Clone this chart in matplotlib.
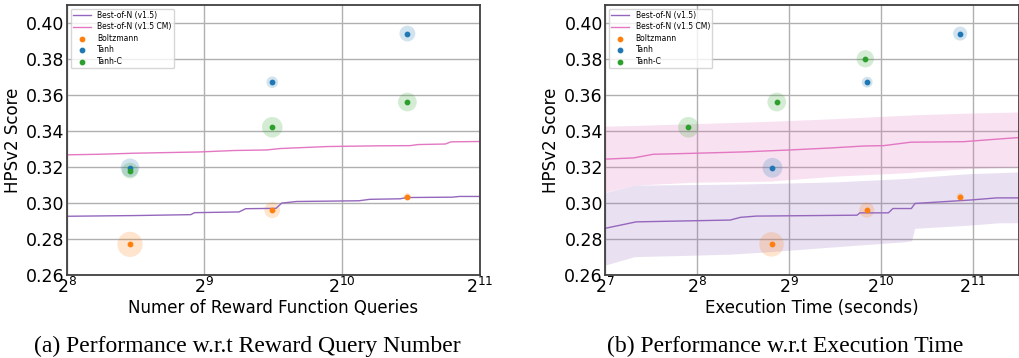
import numpy as np
import matplotlib
matplotlib.use("Agg")
import matplotlib.pyplot as plt
from matplotlib.ticker import LogLocator, LogFormatterMathtext, NullLocator, FormatStrFormatter

# ---- data: (a) reward queries ----
q_bon_x = [256, 362, 478, 487, 609, 630, 734, 755, 814, 1113, 1176, 1370, 1418, 1783, 1846, 2048]
q_bon_y = [0.2926, 0.2930, 0.2935, 0.2946, 0.2950, 0.2968, 0.2970, 0.2999, 0.3008, 0.3012,
           0.3020, 0.3023, 0.3030, 0.3032, 0.3036, 0.3036]
q_cm_x = [256, 300, 360, 500, 595, 700, 750, 950, 1230, 1440, 1500, 1720, 1770, 2048]
q_cm_y = [0.3267, 0.3270, 0.3276, 0.3283, 0.3291, 0.3294, 0.3302, 0.3313, 0.3317, 0.3318,
          0.3324, 0.3327, 0.3339, 0.3341]

q_boltz_x = [352, 720, 1421]
q_boltz_y = [0.277, 0.296, 0.3035]
q_boltz_sd = [0.0070, 0.0044, 0.0020]
q_tanh_x = [352, 720, 1421]
q_tanh_y = [0.3195, 0.367, 0.394]
q_tanh_sd = [0.0052, 0.0032, 0.0044]
q_tanhc_x = [352, 720, 1421]
q_tanhc_y = [0.318, 0.342, 0.356]
q_tanhc_sd = [0.0044, 0.0057, 0.0052]

# ---- data: (b) execution time ----
t_bon_x = [128, 162, 329, 355, 400, 855, 873, 1083, 1120, 1287, 1323, 2000, 2450, 2896]
t_bon_y = [0.2859, 0.2895, 0.2905, 0.2920, 0.2927, 0.2932, 0.2945, 0.2945, 0.2969, 0.2969,
           0.2997, 0.3016, 0.3028, 0.3028]
t_cm_x = [128, 159, 184, 256, 362, 515, 700, 900, 1045, 1280, 1910, 2320, 2896]
t_cm_y = [0.3243, 0.3250, 0.3270, 0.3276, 0.3283, 0.3294, 0.3305, 0.3316, 0.3318, 0.3337,
          0.3340, 0.3351, 0.3363]

band_x = [128, 160, 250, 330, 440, 730, 1210, 1290, 1320, 2000, 2500, 2896]
t_cm_lo = [0.3060, 0.3099, 0.3115, 0.3118, 0.3121, 0.3149, 0.3167, 0.3170, 0.3172, 0.3191, 0.3196, 0.3200]
t_cm_hi = [0.3426, 0.3430, 0.3440, 0.3446, 0.3453, 0.3468, 0.3486, 0.3488, 0.3489, 0.3499, 0.3502, 0.3505]
t_bon_hi = [0.3058, 0.3099, 0.3102, 0.3104, 0.3108, 0.3117, 0.3135, 0.3138, 0.3140, 0.3163, 0.3168, 0.3172]
t_bon_lo = [0.2655, 0.2702, 0.2710, 0.2716, 0.2729, 0.2757, 0.2784, 0.2790, 0.2859, 0.2877, 0.2890, 0.2890]

t_boltz_x = [449, 920, 1859]
t_boltz_y = [0.277, 0.296, 0.3035]
t_boltz_sd = [0.0068, 0.0042, 0.0020]
t_tanh_x = [452, 923, 1859]
t_tanh_y = [0.3195, 0.367, 0.394]
t_tanh_sd = [0.0055, 0.0030, 0.0039]
t_tanhc_x = [240, 467, 910]
t_tanhc_y = [0.342, 0.356, 0.380]
t_tanhc_sd = [0.0057, 0.0052, 0.0048]

PURPLE = "#9467bd"
PINK = "#e377c2"

fig = plt.figure(figsize=(10.2, 3.58), dpi=100)
ax1 = fig.add_axes([0.0654, 0.2318, 0.4052, 0.755])
ax2 = fig.add_axes([0.5931, 0.2318, 0.4059, 0.755])


def halo_sizes(ax, sd):
    # convert a score spread into a marker area (points^2)
    y0 = ax.transData.transform((1, 0.30))[1]
    y1 = ax.transData.transform((1, 0.31))[1]
    px_per_unit = (y1 - y0) / 0.01
    r_pt = np.array(sd) * px_per_unit * 72.0 / fig.dpi
    return (2 * r_pt) ** 2


def setup(ax, xlim, xlabel):
    ax.set_xscale("log", base=2)
    ax.set_xlim(*xlim)
    ax.set_ylim(0.26, 0.41)
    ax.xaxis.set_major_locator(LogLocator(base=2))
    ax.xaxis.set_major_formatter(LogFormatterMathtext(base=2))
    ax.xaxis.set_minor_locator(NullLocator())
    ax.set_yticks(np.arange(0.26, 0.401, 0.02))
    ax.yaxis.set_major_formatter(FormatStrFormatter("%.2f"))
    ax.tick_params(labelsize=12.5, length=0, pad=1.5)
    ax.grid(True, color="#b0b0b0", linewidth=1.0)
    ax.set_axisbelow(True)
    for s in ax.spines.values():
        s.set_linewidth(1.3)
        s.set_color("0.25")
    ax.set_xlabel(xlabel, fontsize=12, labelpad=1)
    ax.set_ylabel("HPSv2 Score", fontsize=12, labelpad=3)


setup(ax1, (256, 2048), "Numer of Reward Function Queries")
setup(ax2, (128, 2896), "Execution Time (seconds)")

# (a)
ax1.plot(q_bon_x, q_bon_y, color=PURPLE, lw=1.0, label="Best-of-N (v1.5)")
ax1.plot(q_cm_x, q_cm_y, color=PINK, lw=1.0, label="Best-of-N (v1.5 CM)")
for xs, ys, sd, c, lab in [(q_boltz_x, q_boltz_y, q_boltz_sd, "tab:orange", "Boltzmann"),
                           (q_tanh_x, q_tanh_y, q_tanh_sd, "tab:blue", "Tanh"),
                           (q_tanhc_x, q_tanhc_y, q_tanhc_sd, "tab:green", "Tanh-C")]:
    ax1.scatter(xs, ys, s=halo_sizes(ax1, sd), color=c, alpha=0.2, linewidths=0)
    ax1.scatter(xs, ys, s=10, color=c, label=lab, zorder=3)

# (b)
ax2.fill_between(band_x, t_bon_lo, t_bon_hi, color=PURPLE, alpha=0.2, linewidth=0)
ax2.fill_between(band_x, t_cm_lo, t_cm_hi, color=PINK, alpha=0.22, linewidth=0)
ax2.plot(t_bon_x, t_bon_y, color=PURPLE, lw=1.0, label="Best-of-N (v1.5)")
ax2.plot(t_cm_x, t_cm_y, color=PINK, lw=1.0, label="Best-of-N (v1.5 CM)")
for xs, ys, sd, c, lab in [(t_boltz_x, t_boltz_y, t_boltz_sd, "tab:orange", "Boltzmann"),
                           (t_tanh_x, t_tanh_y, t_tanh_sd, "tab:blue", "Tanh"),
                           (t_tanhc_x, t_tanhc_y, t_tanhc_sd, "tab:green", "Tanh-C")]:
    ax2.scatter(xs, ys, s=halo_sizes(ax2, sd), color=c, alpha=0.2, linewidths=0)
    ax2.scatter(xs, ys, s=10, color=c, label=lab, zorder=3)

for ax in (ax1, ax2):
    ax.legend(loc="upper left", fontsize=5.5, framealpha=0.8, borderpad=0.3,
              labelspacing=0.33, handlelength=2.4, handletextpad=0.8)

fig.text(247 / 1020, 0.031, "(a) Performance w.r.t Reward Query Number",
         ha="center", va="center", fontsize=17, family="Liberation Serif")
fig.text(785 / 1020, 0.031, "(b) Performance w.r.t Execution Time",
         ha="center", va="center", fontsize=17, family="Liberation Serif")

fig.savefig("out.png", dpi=100)
